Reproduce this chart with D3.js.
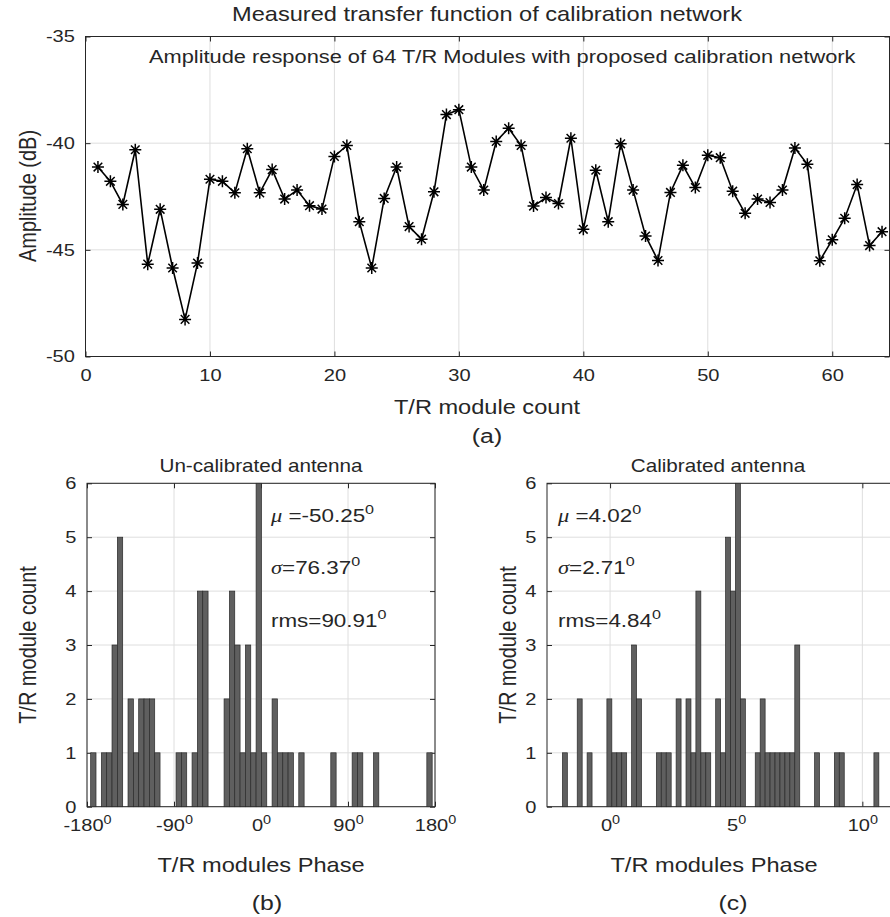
<!DOCTYPE html>
<html>
<head>
<meta charset="utf-8">
<script src="https://cdn.jsdelivr.net/npm/d3@7"></script>
<style>
  body { margin: 0; background: #fff; }
  svg text { font-family: "Liberation Sans", Arial, Helvetica, sans-serif; fill: #262626; }
</style>
</head>
<body>
<div id="chart"></div>
<script>
// amplitude (dB) of T/R modules 1..64
const amplitude = [
  -41.12, -41.79, -42.87, -40.31, -45.67, -43.10, -45.85, -48.26, -45.62, -41.69,
  -41.79, -42.33, -40.26, -42.33, -41.24, -42.62, -42.20, -42.93, -43.09, -40.62,
  -40.11, -43.68, -45.85, -42.59, -41.12, -43.91, -44.50, -42.28, -38.66, -38.43,
  -41.12, -42.20, -39.92, -39.30, -40.11, -42.95, -42.55, -42.83, -39.77, -44.04,
  -41.27, -43.68, -40.03, -42.20, -44.35, -45.50, -42.31, -41.04, -42.08, -40.57,
  -40.68, -42.25, -43.29, -42.62, -42.78, -42.20, -40.23, -40.99, -45.51, -44.53,
  -43.52, -41.94, -44.80, -44.15
];
const ampTicks = [-50, -45, -40, -35];
const moduleTicks = [0, 10, 20, 30, 40, 50, 60];

// histogram of un-calibrated phase (64 bins)
const uncalCounts = [
  1, 0, 1, 1, 3, 5, 0, 2, 1, 2,
  2, 2, 1, 0, 0, 0, 1, 1, 0, 1,
  4, 4, 0, 0, 0, 2, 4, 3, 1, 3,
  1, 6, 1, 0, 2, 1, 1, 1, 0, 1,
  0, 0, 0, 0, 0, 1, 0, 0, 0, 1,
  1, 0, 0, 1, 0, 0, 0, 0, 0, 0,
  0, 0, 0, 1
];
const uncalBinStart = -176.2;
const uncalBinWidth = 5.52;
const uncalTicks = [-180, -90, 0, 90, 180];
const uncalStats = ["-50.25", "76.37", "90.91"];

// histogram of calibrated phase (64 bins)
const calCounts = [
  1, 0, 0, 2, 0, 1, 0, 0, 0, 2,
  1, 1, 1, 0, 3, 2, 0, 0, 0, 1,
  1, 1, 0, 2, 0, 2, 1, 4, 1, 1,
  0, 2, 1, 5, 4, 6, 2, 0, 0, 1,
  2, 1, 1, 1, 1, 1, 1, 3, 0, 0,
  0, 1, 0, 0, 0, 1, 1, 0, 0, 0,
  0, 0, 0, 1
];
const calBinStart = -1.89;
const calBinWidth = 0.196;
const calTicks = [0, 5, 10];
const calStats = ["4.02", "2.71", "4.84"];

const countTicks = [0, 1, 2, 3, 4, 5, 6];

const W = 890, H = 917;
const SX = 1.18;   // figure is stretched sideways, text too
const gridColor = "#dedede";
const axisColor = "#262626";
const sans = '"Liberation Sans", Arial, sans-serif';
const serif = '"Liberation Serif", "Times New Roman", serif';

const svg = d3.select("#chart").append("svg")
    .attr("width", W)
    .attr("height", H);

// box, grid and inward ticks for one axes
function drawFrame(x, y, xTicks, yTicks, supX) {
    let g = svg.append("g");
    let [x0, x1] = x.range();
    let [y0, y1] = y.range();

    g.selectAll(".gx").data(xTicks).join("line")
        .attr("x1", d => x(d)).attr("x2", d => x(d))
        .attr("y1", y0).attr("y2", y1)
        .attr("stroke", gridColor);
    g.selectAll(".gy").data(yTicks).join("line")
        .attr("x1", x0).attr("x2", x1)
        .attr("y1", d => y(d)).attr("y2", d => y(d))
        .attr("stroke", gridColor);

    let fmt = d => String(d);
    let xb = g.append("g").attr("transform", `translate(0,${y0})`)
        .call(d3.axisBottom(x).tickValues(xTicks).tickSize(-5).tickPadding(12).tickFormat(fmt));
    let xt = g.append("g").attr("transform", `translate(0,${y1})`)
        .call(d3.axisTop(x).tickValues(xTicks).tickSize(-5).tickFormat(""));
    let yl = g.append("g").attr("transform", `translate(${x0},0)`)
        .call(d3.axisLeft(y).tickValues(yTicks).tickSize(-5).tickPadding(9).tickFormat(fmt));
    let yr = g.append("g").attr("transform", `translate(${x1},0)`)
        .call(d3.axisRight(y).tickValues(yTicks).tickSize(-5).tickFormat(""));

    [xb, xt, yl, yr].forEach(a => {
        a.select(".domain").remove();
        a.selectAll("line").attr("stroke", axisColor);
        a.selectAll("text").attr("font-size", 17).attr("fill", axisColor)
            .attr("font-family", sans)
            .attr("transform", `scale(${SX},1)`);
    });

    if (supX) {
        xb.selectAll(".tick text")
            .append("tspan").attr("dy", "-0.55em").attr("font-size", "0.72em").text("0");
    }

    g.append("rect")
        .attr("x", x0).attr("y", y1)
        .attr("width", x1 - x0).attr("height", y0 - y1)
        .attr("fill", "none").attr("stroke", axisColor).attr("stroke-width", 1);
    return g;
}

function label(x, y, txt, size, opts = {}) {
    let tr = `translate(${x},${y}) scale(${SX},1)` + (opts.rotate ? " rotate(-90)" : "");
    let t = svg.append("text")
        .attr("transform", tr)
        .attr("font-size", size)
        .attr("text-anchor", opts.anchor || "middle")
        .text(txt);
    if (opts.serif) t.attr("font-family", serif);
    return t;
}

// ---------- (a) amplitude response ----------
let xA = d3.scaleLinear().domain([0, 64.6]).range([85.5, 889.5]);
let yA = d3.scaleLinear().domain([-50, -35]).range([356.5, 36.5]);

drawFrame(xA, yA, moduleTicks, ampTicks, false);

svg.append("path")
    .datum(amplitude)
    .attr("d", d3.line().x((d, i) => xA(i + 1)).y(d => yA(d)))
    .attr("fill", "none")
    .attr("stroke", "#000")
    .attr("stroke-width", 1.6);

const star = "M-6,0H6M0,-6V6M-4.3,-4.3L4.3,4.3M-4.3,4.3L4.3,-4.3";
svg.append("g").selectAll("path")
    .data(amplitude).join("path")
    .attr("transform", (d, i) => `translate(${xA(i + 1)},${yA(d)})`)
    .attr("d", star)
    .attr("fill", "none")
    .attr("stroke", "#000")
    .attr("stroke-width", 1.5);

label(487, 21, "Measured transfer function of calibration network", 20);
label(149, 63, "Amplitude response of 64 T/R Modules with proposed calibration network", 18.5, {anchor: "start"});
label(487, 414, "T/R module count", 20);
label(36, 196, "Amplitude (dB)", 20, {rotate: true});
label(487, 443, "(a)", 21, {serif: true});

// ---------- histograms ----------
function histogram(x, counts, binStart, binWidth, xTicks, stats, statX, title, titleX, xLabX, yLabX, tag, tagX) {
    let y = d3.scaleLinear().domain([0, 6]).range([806.7, 483.3]);
    drawFrame(x, y, xTicks, countTicks, true);

    let bins = counts.map((c, i) => ({c: c, a: binStart + i * binWidth, b: binStart + (i + 1) * binWidth}))
        .filter(d => d.c > 0);

    svg.append("g").selectAll("rect")
        .data(bins).join("rect")
        .attr("x", d => x(d.a))
        .attr("y", d => y(d.c))
        .attr("width", d => x(d.b) - x(d.a))
        .attr("height", d => y(0) - y(d.c))
        .attr("fill", "#5f5f5f")
        .attr("stroke", "#2a2a2a")
        .attr("stroke-width", 0.7);

    // stats text
    let sym = ["μ", "σ"];
    let base = [522, 574, 627];
    stats.forEach((s, i) => {
        let t = svg.append("text")
            .attr("transform", `translate(${statX},${base[i]}) scale(${SX},1)`)
            .attr("font-size", 19);
        if (i < 2) {
            t.append("tspan").attr("font-family", serif).attr("font-style", "italic").text(sym[i]);
            t.append("tspan").text((i === 0 ? " =" : "=") + s);
        } else {
            t.append("tspan").text("rms=" + s);
        }
        t.append("tspan").attr("dy", "-0.55em").attr("font-size", "0.72em").text("0");
    });

    label(titleX, 472, title, 17.5);
    label(xLabX, 872, "T/R modules Phase", 20);
    label(yLabX, 645, "T/R module count", 20, {rotate: true});
    label(tagX, 910, tag, 21, {serif: true});
}

let xB = d3.scaleLinear().domain([-180, 180]).range([87, 435]);
histogram(xB, uncalCounts, uncalBinStart, uncalBinWidth, uncalTicks, uncalStats, 271,
    "Un-calibrated antenna", 261, 261, 36, "(b)", 267);

let xC = d3.scaleLinear().domain([-2.5, 11.5]).range([547, 900.2]);
histogram(xC, calCounts, calBinStart, calBinWidth, calTicks, calStats, 558,
    "Calibrated antenna", 718, 714, 516, "(c)", 733);
</script>
</body>
</html>
